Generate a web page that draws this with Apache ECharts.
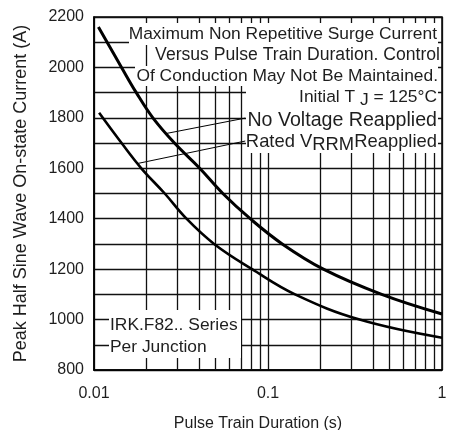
<!DOCTYPE html>
<html><head><meta charset="utf-8">
<script src="https://cdn.jsdelivr.net/npm/echarts@6/dist/echarts.min.js"></script>
<style>html,body{margin:0;padding:0;background:#fff}#c{width:453px;height:430px}</style>
</head><body><div id="c"></div>
<script>
// Curve: No Voltage Reapplied (upper)
const noVoltX = [0.0106, 0.0144, 0.0175, 0.0218, 0.029, 0.0405, 0.055, 0.079, 0.1207, 0.208, 0.45, 1];
const noVoltY = [2160, 2000, 1900, 1800, 1700, 1600, 1500, 1400, 1300, 1200, 1100, 1022];
// Curve: Rated VRRM Reapplied (lower)
const ratedX = [0.0107, 0.0144, 0.0187, 0.0255, 0.034, 0.049, 0.081, 0.143, 0.336, 1];
const ratedY = [1820, 1700, 1600, 1500, 1400, 1300, 1200, 1100, 1000, 928];
// Axis ticks
const yTicks = [800, 1000, 1200, 1400, 1600, 1800, 2000, 2200];
const xTicks = [0.01, 0.1, 1];
const xTickLabels = ['0.01', '0.1', '1'];
const minorX = [0.02, 0.03, 0.04, 0.05, 0.06, 0.07, 0.08, 0.09, 0.2, 0.3, 0.4, 0.5, 0.6, 0.7, 0.8, 0.9];
// Leader lines (label end -> curve point)
const leaderNoVolt = [[0.074, 1799], [0.026, 1738]];
const leaderRated = [[0.074, 1708], [0.0178, 1619]];
// Annotation texts
const noteTop = ['Maximum Non Repetitive Surge Current', 'Versus Pulse Train Duration. Control', 'Of Conduction May Not Be Maintained.'];
const noteSeries = ['IRK.F82.. Series', 'Per Junction'];

const FF = '"Liberation Sans", Arial, sans-serif';
const TXT = '#1e1e1e';
const zip = (xs, ys) => xs.map((x, i) => [x, ys[i]]);

const chart = echarts.init(document.getElementById('c'), null, {renderer: 'canvas'});
const fnt = (s) => s + 'px ' + FF;
chart.setOption({
  animation: false,
  backgroundColor: '#fff',
  grid: {left: 94, right: 11, top: 17, bottom: 60, show: true, borderColor: '#000', borderWidth: 1.5,
    backgroundColor: 'transparent', containLabel: false, outerBoundsMode: 'none'},
  xAxis: {
    type: 'log', logBase: 10, min: 0.01, max: 1,
    name: 'Pulse Train Duration (s)', nameLocation: 'middle', nameGap: 46,
    nameTextStyle: {fontSize: 16, fontFamily: FF, color: TXT, padding: [0, 20, 0, 0]},
    axisLine: {show: true, lineStyle: {color: '#000', width: 1.5}},
    axisTick: {show: false},
    axisLabel: {fontSize: 16, fontFamily: FF, color: TXT, margin: 16,
      formatter: v => { const i = xTicks.findIndex(t => Math.abs(t - v) < 1e-9); return i >= 0 ? xTickLabels[i] : ''; }},
    splitLine: {show: true, lineStyle: {color: '#111', width: 1.3}},
    minorTick: {show: false}, minorSplitLine: {show: false}
  },
  yAxis: {
    type: 'value', min: 800, max: 2200, interval: 100,
    name: 'Peak Half Sine Wave On-state Current (A)', nameLocation: 'middle', nameGap: 64,
    nameTextStyle: {fontSize: 18, fontFamily: FF, color: TXT},
    axisLine: {show: true, lineStyle: {color: '#000', width: 1.5}},
    axisTick: {show: false},
    axisLabel: {fontSize: 16, fontFamily: FF, color: TXT, margin: 10,
      formatter: v => yTicks.includes(v) ? String(v) : ''},
    splitLine: {show: true, lineStyle: {color: '#111', width: 1.3}}
  },
  series: [
    {type: 'line', data: [], z: 1, silent: true,
      markLine: {silent: true, symbol: ['none', 'none'], label: {show: false}, animation: false,
        lineStyle: {color: '#111', width: 1.3, type: 'solid'},
        emphasis: {disabled: true},
        data: minorX.map(v => ({xAxis: v}))}},
    {name: 'No Voltage Reapplied', type: 'line', data: zip(noVoltX, noVoltY), showSymbol: false, smooth: 0.4,
      lineStyle: {color: '#000', width: 3}, z: 5},
    {name: 'Rated VRRM Reapplied', type: 'line', data: zip(ratedX, ratedY), showSymbol: false, smooth: 0.4,
      lineStyle: {color: '#000', width: 2.6}, z: 5},
    {type: 'line', data: leaderNoVolt, showSymbol: false, lineStyle: {color: '#000', width: 1}, z: 4, silent: true},
    {type: 'line', data: leaderRated, showSymbol: false, lineStyle: {color: '#000', width: 1}, z: 4, silent: true}
  ],
  graphic: [
    {type: 'rect', z: 100, shape: {x: 129, y: 23, width: 309, height: 22}, style: {fill: '#fff'}},
    {type: 'rect', z: 100, shape: {x: 150, y: 45, width: 288, height: 21}, style: {fill: '#fff'}},
    {type: 'rect', z: 100, shape: {x: 135, y: 66, width: 303, height: 20}, style: {fill: '#fff'}},
    {type: 'rect', z: 100, shape: {x: 246, y: 86, width: 192, height: 67}, style: {fill: '#fff'}},
    {type: 'rect', z: 100, shape: {x: 109, y: 310, width: 132, height: 48}, style: {fill: '#fff'}},
    {type: 'text', z: 101, style: {text: noteTop[0], x: 437, y: 34, align: 'right', verticalAlign: 'middle', font: fnt(17.4), fill: TXT}},
    {type: 'text', z: 101, style: {text: noteTop[1], x: 440, y: 55, align: 'right', verticalAlign: 'middle', font: fnt(17.6), fill: TXT}},
    {type: 'text', z: 101, style: {text: noteTop[2], x: 438, y: 76, align: 'right', verticalAlign: 'middle', font: fnt(17.4), fill: TXT}},
    {type: 'text', z: 101, style: {text: '{a|Initial T }{b|J}{a| = 125°C}', x: 437, y: 97, align: 'right', verticalAlign: 'middle',
      rich: {a: {fontSize: 17.4, fontFamily: FF, fill: TXT}, b: {fontSize: 17.4, fontFamily: FF, fill: TXT, padding: [7, 0, 0, 0]}}}},
    {type: 'text', z: 101, style: {text: 'No Voltage Reapplied', x: 437, y: 121, align: 'right', verticalAlign: 'middle', font: fnt(19.6), fill: TXT}},
    {type: 'text', z: 101, style: {text: '{c|Rated V}{d|RRM}{c|Reapplied}', x: 437, y: 142, align: 'right', verticalAlign: 'middle',
      rich: {c: {fontSize: 18.4, fontFamily: FF, fill: TXT}, d: {fontSize: 18.4, fontFamily: FF, fill: TXT, padding: [6, 0, 0, 0]}}}},
    {type: 'text', z: 101, style: {text: noteSeries[0], x: 110, y: 325, align: 'left', verticalAlign: 'middle', font: fnt(17.4), fill: TXT}},
    {type: 'text', z: 101, style: {text: noteSeries[1], x: 110, y: 347, align: 'left', verticalAlign: 'middle', font: fnt(17.4), fill: TXT}}
  ]
});
</script></body></html>
